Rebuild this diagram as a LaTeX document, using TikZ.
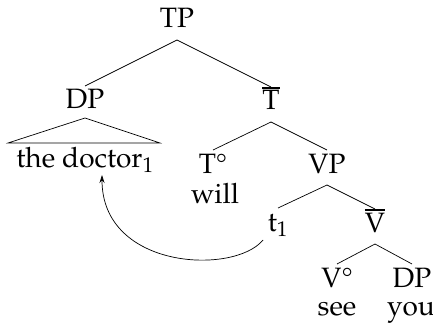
\documentclass[tikz,border=0pt]{standalone}
\usepackage[T1]{fontenc}
\usepackage{mathpazo}
\usetikzlibrary{calc,arrows.meta}

% tree branch: from below the parent's baseline to above the child's letters
\newcommand\branch[2]{\draw[branchline] ($(#1.base)+(0,-12)$) -- ($(#2.base)+(0,23)$);}
% bar-level category label with a heavy bar
\newcommand\barcat[1]{\vbox{\hrule height 2pt\kern 1.8pt\hbox{#1}}}

\begin{document}
\begin{tikzpicture}[x=1pt,y=1pt,
  lbl/.style={anchor=base,inner sep=0pt,font=\fontsize{28}{34}\selectfont},
  branchline/.style={line width=0.7pt},
  moveline/.style={line width=0.7pt,-{Stealth[length=8pt,width=5pt]}}]
\useasboundingbox (0,0) rectangle (433,-326);

% labels
\node[lbl] (TP)   at (177,-28)  {TP};
\node[lbl] (DP)   at (85,-109)  {DP};
\node[lbl] (Tbar) at (271,-110) {\barcat{T}};
\node[lbl] (doc)  at (85,-167)  {the doctor$_1$};
\node[lbl] (Tdeg) at (213,-173) {T\textdegree};
\node[lbl] (will) at (215,-203) {will};
\node[lbl] (VP)   at (327,-173) {VP};
\node[lbl] (t1)   at (278,-231) {t$_1$};
\node[lbl] (Vbar) at (375,-232) {\barcat{V}};
\node[lbl] (Vdeg) at (337,-287) {V\textdegree};
\node[lbl] (DPb)  at (412,-287) {DP};
\node[lbl] (see)  at (337,-315) {see};
\node[lbl] (you)  at (411,-315) {you};

% branches
\branch{TP}{DP}
\branch{TP}{Tbar}
\branch{Tbar}{Tdeg}
\branch{Tbar}{VP}
\branch{VP}{t1}
\branch{VP}{Vbar}
\branch{Vbar}{Vdeg}
\branch{Vbar}{DPb}

% triangle over the unanalysed phrase
\draw[branchline] ($(DP.base)+(0,-9)$) -- ($(doc.base)+(-77,24)$)
  -- ($(doc.base)+(75,24)$) -- cycle;

% movement arrow from the trace to its antecedent
\coordinate (mvstart) at ($(t1.base)+(-15,-9)$);
\coordinate (mvend) at ($(doc.base)+(17,-8)$);
\draw[moveline] (mvstart) to[out=231,in=-90,out distance=45pt,in distance=95pt] (mvend);
\end{tikzpicture}
\end{document}
